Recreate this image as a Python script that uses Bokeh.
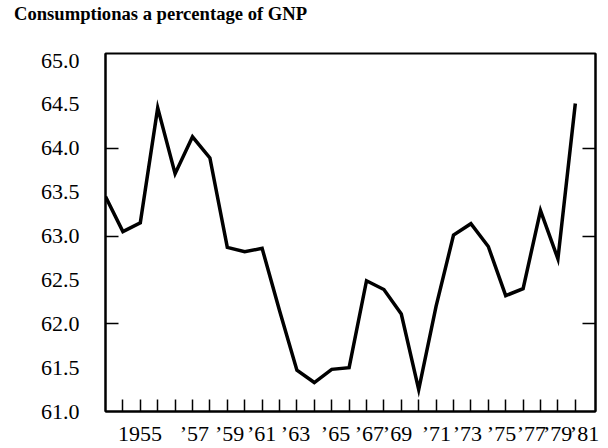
from bokeh.plotting import figure
from bokeh.models import FixedTicker, LinearAxis, NumeralTickFormatter, Range1d, Div
from bokeh.layouts import column
from bokeh.embed import file_html
from bokeh.resources import INLINE

# ---- data ----
title_text = "Consumptionas a percentage of GNP"
consumption = [63.45, 63.05, 63.15, 64.46, 63.71, 64.13, 63.89, 62.87, 62.82, 62.86,
               62.15, 61.47, 61.33, 61.48, 61.50, 62.49, 62.39, 62.11, 61.25, 62.20,
               63.01, 63.14, 62.88, 62.32, 62.40, 63.29, 62.74, 64.51]
year_index = list(range(len(consumption)))
x_tick_labels = ["1955", "\u201957", "\u201959", "\u201961", "\u201963", "\u201965", "\u201967",
                 "\u201969", "\u201971", "\u201973", "\u201975", "\u201977", "\u201979", "\u201981"]
x_label_positions = [1.98, 5.11, 7.13, 8.97, 10.92, 13.22, 15.17, 16.78, 19.02, 20.8,
                     22.76, 24.48, 25.98, 27.53]
y_label_values = [61.0, 61.5, 62.0, 62.5, 63.0, 63.5, 64.0, 64.5, 65.0]
y_mark_values = [62.0, 63.0, 64.0]

FONT = "Liberation Serif"

p = figure(width=608, height=422, output_backend="svg", toolbar_location=None,
           x_range=Range1d(0, 28.16), y_range=Range1d(61.0, 65.08),
           min_border_left=105, min_border_right=13, min_border_top=27, min_border_bottom=33)
p.title.visible = False

p.line(year_index, consumption, line_color="black", line_width=3.5, line_join="miter")

p.grid.visible = False
p.outline_line_color = "black"
p.outline_line_width = 2
p.outline_line_alpha = 1.0

# bottom axis: inward yearly marks + typeset year labels
xa = p.xaxis[0]
xa.ticker = FixedTicker(ticks=x_label_positions, minor_ticks=year_index[1:])
xa.major_label_overrides = {pos: lab for pos, lab in zip(x_label_positions, x_tick_labels)}
xa.major_tick_line_color = None
xa.major_tick_out = 0
xa.major_tick_in = 0
xa.minor_tick_in = 12
xa.minor_tick_out = 0
xa.minor_tick_line_color = "black"
xa.minor_tick_line_width = 1.5
xa.axis_line_color = "black"
xa.axis_line_width = 2
xa.major_label_standoff = 9
xa.major_label_text_font = FONT
xa.major_label_text_font_size = "22px"
xa.major_label_text_color = "black"

# left axis
ya = p.yaxis[0]
ya.ticker = FixedTicker(ticks=y_label_values, minor_ticks=y_mark_values)
ya.formatter = NumeralTickFormatter(format="0.0")
ya.major_tick_line_color = None
ya.major_tick_out = 0
ya.major_tick_in = 0
ya.minor_tick_in = 13
ya.minor_tick_out = 0
ya.minor_tick_line_color = "black"
ya.minor_tick_line_width = 1.5
ya.axis_line_color = "black"
ya.axis_line_width = 2
ya.major_label_standoff = 26
ya.major_label_text_font = FONT
ya.major_label_text_font_size = "22px"
ya.major_label_text_color = "black"

# right axis: inward marks only (labels hidden)
ra = LinearAxis(ticker=FixedTicker(ticks=y_mark_values),
                major_tick_line_color="black", major_tick_line_width=1.5,
                major_tick_in=13, major_tick_out=0,
                minor_tick_line_color=None, minor_tick_in=0, minor_tick_out=0,
                axis_line_color="black", axis_line_width=2,
                major_label_text_color=None, major_label_text_font_size="1px",
                major_label_standoff=0)
p.add_layout(ra, "right")

# chart title as a text block above the figure
heading = Div(text=title_text, width=594, height=23, margin=(3, 0, 0, 14),
              styles={"font-family": FONT, "font-weight": "bold", "font-size": "18.6px",
                      "color": "black", "line-height": "1.15", "white-space": "nowrap"})

layout = column(heading, p, spacing=0)

open("out.html", "w").write(file_html(layout, INLINE))
